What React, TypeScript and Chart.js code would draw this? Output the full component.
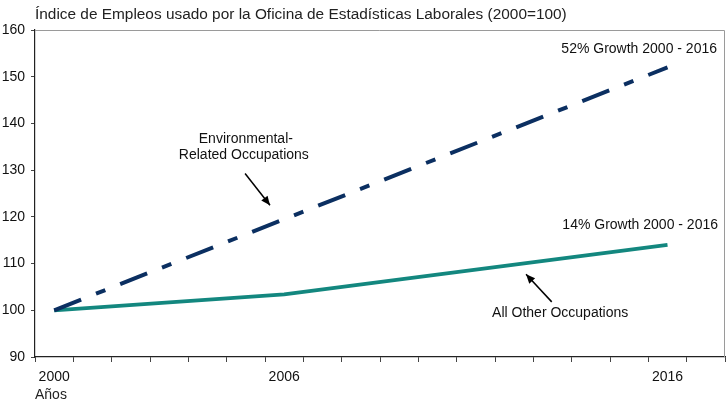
import React, { useEffect, useRef } from "react";
import { Chart, registerables } from "chart.js";

Chart.register(...registerables);

const years: string[] = [
  "2000", "2001", "2002", "2003", "2004", "2005", "2006", "2007", "2008",
  "2009", "2010", "2011", "2012", "2013", "2014", "2015", "2016", "2017",
];
const shownYears: string[] = ["2000", "2006", "2016"];
const environmental: (number | null)[] = [
  100, null, null, null, null, null, 119.5, null, null,
  null, null, null, null, null, null, null, 152, null,
];
const allOther: (number | null)[] = [
  100, null, null, null, null, null, 103.4, null, null,
  null, null, null, null, null, null, null, 114, null,
];
const yMin = 90;
const yMax = 160;
const yStep = 10;

const titleText = "Índice de Empleos usado por la Oficina de Estadísticas Laborales (2000=100)";
const xAxisName = "Años";
const envGrowth = "52% Growth 2000 - 2016";
const otherGrowth = "14% Growth 2000 - 2016";
const envLabel = ["Environmental-", "Related Occupations"];
const otherLabel = "All Other Occupations";

const FONT = "'Liberation Sans', Arial, sans-serif";
const TEXT = "#111111";
const NAVY = "#0b2f61";
const TEAL = "#13877f";

export default function App() {
  const ref = useRef<HTMLCanvasElement | null>(null);

  useEffect(() => {
    if (!ref.current) return;

    const annot = {
      id: "annot",
      afterDraw(chart: any) {
        const { ctx, chartArea } = chart;
        const xs = chart.scales.x;
        const ys = chart.scales.y;
        ctx.save();
        // top and right border
        ctx.strokeStyle = "#9a9a9a";
        ctx.lineWidth = 1;
        ctx.beginPath();
        ctx.moveTo(chartArea.left, chartArea.top + 0.5);
        ctx.lineTo(chartArea.right - 0.5, chartArea.top + 0.5);
        ctx.lineTo(chartArea.right - 0.5, chartArea.bottom);
        ctx.stroke();

        ctx.fillStyle = "#222";
        ctx.font = `15.4px ${FONT}`;
        ctx.textBaseline = "middle";
        ctx.textAlign = "left";
        ctx.fillText(titleText, chartArea.left, 15);
        ctx.font = `14px ${FONT}`;
        ctx.fillText(xAxisName, chartArea.left, 395);

        ctx.fillStyle = TEXT;
        ctx.textAlign = "right";
        ctx.fillText(envGrowth, chartArea.right - 8, ys.getPixelForValue(155.8));
        ctx.fillText(otherGrowth, chartArea.right - 7, ys.getPixelForValue(118.2));

        ctx.textAlign = "center";
        const ex = xs.getPixelForValue(5.0);
        ctx.fillText(envLabel[0], ex, ys.getPixelForValue(136.6));
        ctx.fillText(envLabel[1], ex - 2, ys.getPixelForValue(133.2));
        ctx.fillText(otherLabel, xs.getPixelForValue(13.2), ys.getPixelForValue(99.35));

        const arrow = (x1: number, y1: number, x2: number, y2: number) => {
          ctx.strokeStyle = "#000";
          ctx.fillStyle = "#000";
          ctx.lineWidth = 1.5;
          ctx.beginPath();
          ctx.moveTo(x1, y1);
          ctx.lineTo(x2, y2);
          ctx.stroke();
          const a = Math.atan2(y2 - y1, x2 - x1);
          const L = 9, W = 4;
          ctx.beginPath();
          ctx.moveTo(x2, y2);
          ctx.lineTo(x2 - L * Math.cos(a) + W * Math.sin(a), y2 - L * Math.sin(a) - W * Math.cos(a));
          ctx.lineTo(x2 - L * Math.cos(a) - W * Math.sin(a), y2 - L * Math.sin(a) + W * Math.cos(a));
          ctx.closePath();
          ctx.fill();
        };
        arrow(xs.getPixelForValue(4.98), ys.getPixelForValue(129.3),
              xs.getPixelForValue(5.63), ys.getPixelForValue(122.5));
        arrow(xs.getPixelForValue(12.98), ys.getPixelForValue(101.8),
              xs.getPixelForValue(12.31), ys.getPixelForValue(107.7));
        ctx.restore();
      },
    };

    const chart = new Chart(ref.current, {
      type: "line",
      data: {
        labels: years,
        datasets: [
          {
            data: environmental,
            borderColor: NAVY,
            borderWidth: 4,
            borderDash: [29, 16, 10, 16],
            borderCapStyle: "butt",
            pointRadius: 0,
            spanGaps: true,
            tension: 0,
          },
          {
            data: allOther,
            borderColor: TEAL,
            borderWidth: 3.8,
            pointRadius: 0,
            spanGaps: true,
            tension: 0,
          },
        ],
      },
      options: {
        responsive: false,
        animation: false,
        events: [],
        layout: { padding: { top: 30, right: 2, left: 0, bottom: 0 } },
        plugins: {
          legend: { display: false },
          tooltip: { enabled: false },
          title: { display: false },
        },
        scales: {
          x: {
            type: "category",
            offset: true,
            grid: {
              offset: true,
              drawOnChartArea: false,
              drawTicks: true,
              tickLength: 5,
              color: "#444",
            },
            border: { display: true, color: "#222", width: 1.2 },
            ticks: {
              autoSkip: false,
              maxRotation: 0,
              padding: 7,
              color: TEXT,
              font: { family: FONT, size: 14 },
              callback: (v: any, i: number) =>
                shownYears.includes(years[i]) ? years[i] : "",
            },
            afterFit: (s: any) => {
              s.height = 45;
            },
          },
          y: {
            min: yMin,
            max: yMax,
            grid: {
              drawOnChartArea: false,
              drawTicks: true,
              tickLength: 4,
              color: "#444",
            },
            border: { display: true, color: "#222", width: 1.2 },
            ticks: {
              stepSize: yStep,
              padding: 6,
              color: TEXT,
              font: { family: FONT, size: 14 },
            },
            afterFit: (s: any) => {
              s.width = 35;
            },
          },
        },
      },
      plugins: [annot],
    } as any);

    return () => chart.destroy();
  }, []);

  return (
    <div style={{ position: "fixed", left: 0, top: 0, width: 727, height: 402, background: "#fff" }}>
      <canvas ref={ref} width={727} height={402} style={{ display: "block" }} />
    </div>
  );
}
